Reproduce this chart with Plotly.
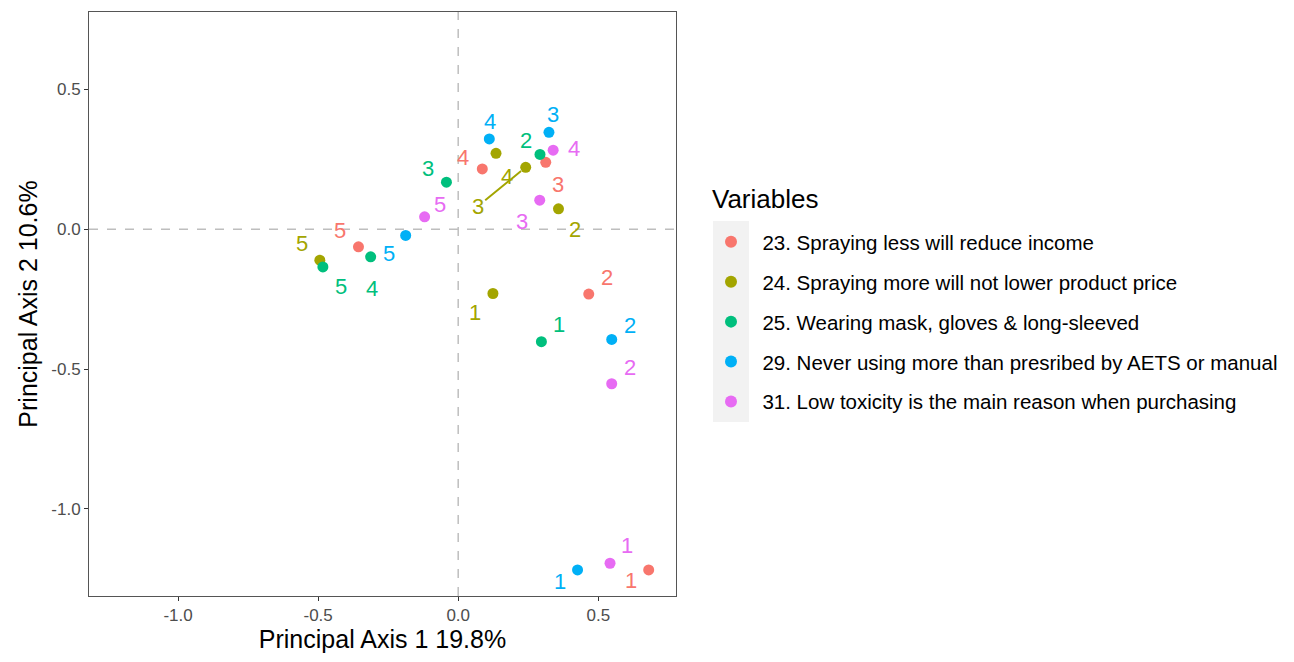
import plotly.graph_objects as go

variables = [
    "23. Spraying less will reduce income",
    "24. Spraying more will not lower product price",
    "25. Wearing mask, gloves & long-sleeved",
    "29. Never using more than presribed by AETS or manual",
    "31. Low toxicity is the main reason when purchasing",
]
colors = ["#F8766D", "#A3A500", "#00BF7D", "#00B0F6", "#E76BF3"]
levels = ["1", "2", "3", "4", "5"]

axis1 = [
    [0.680, 0.466, 0.3125, 0.086, -0.356],
    [0.124, 0.358, 0.241, 0.135, -0.494],
    [0.297, 0.292, -0.042, -0.3125, -0.483],
    [0.426, 0.548, 0.324, 0.111, -0.1875],
    [0.542, 0.548, 0.291, 0.339, -0.120],
]
axis2 = [
    [-1.218, -0.232, 0.239, 0.215, -0.063],
    [-0.230, 0.0726, 0.221, 0.271, -0.111],
    [-0.402, 0.267, 0.168, -0.099, -0.135],
    [-1.218, -0.394, 0.346, 0.3225, -0.0226],
    [-1.194, -0.5525, 0.1036, 0.282, 0.044],
]

# label offsets in pixels (repelled text positions)
label_dx = [
    [-18, 18, 12, -19, -18],
    [-18, 17, -48, 11, -18],
    [18, -14, -18, 1, 18],
    [-18, 18, 4, 1, -17],
    [17, 18, -18, 21, 15],
]
label_dy = [
    [11, -17, 22, -11, -16],
    [19, 21, 39, 23, -17],
    [-17, -14, -14, 32, 20],
    [12, -14, -18, -17, 18],
    [-18, -16, 21, -2, -12],
]

FONT = "Liberation Sans, Arial, sans-serif"

# plot-area geometry (window pixels), page body has an 8px offset
PL, PR, PT, PB = 88, 675, 11, 595
OFF = 7
W, H = 1294, 662

def px_x(p):
    return (p - PL) / (PR - PL)

def px_y(p):
    return (PB - p) / (PB - PT)

fig = go.Figure()

for i, name in enumerate(variables):
    fig.add_trace(go.Scatter(
        x=axis1[i], y=axis2[i], mode="markers", name="\u00a0\u00a0" + name,
        legendgroup=name,
        marker=dict(color=colors[i], size=11),
        hoverinfo="skip",
    ))

annotations = []
for i in range(len(variables)):
    for j, lv in enumerate(levels):
        dx, dy = label_dx[i][j], label_dy[i][j]
        long = (dx * dx + dy * dy) > 40 * 40
        annotations.append(dict(
            x=axis1[i][j], y=axis2[i][j], xref="x", yref="y",
            text=lv, showarrow=True,
            ax=dx, ay=dy,
            arrowwidth=2 if long else 0.1,
            arrowcolor=colors[i] if long else "rgba(0,0,0,0)",
            arrowhead=0, standoff=6 if long else 0,
            font=dict(size=22, color=colors[i], family=FONT),
        ))

annotations.append(dict(
    xref="paper", yref="paper", x=px_x(709), y=px_y(198),
    xanchor="left", yanchor="middle", showarrow=False,
    text="Variables", font=dict(size=26, color="black", family=FONT),
))

shapes = [
    dict(type="line", xref="x", yref="paper", x0=0, x1=0, y0=0, y1=1,
         line=dict(color="#BEBEBE", width=1.5, dash="dash"), layer="below"),
    dict(type="line", xref="paper", yref="y", x0=0, x1=1, y0=0, y1=0,
         line=dict(color="#BEBEBE", width=1.5, dash="dash"), layer="below"),
    # legend key background
    dict(type="rect", xref="paper", yref="paper",
         x0=px_x(712), x1=px_x(748), y0=px_y(421), y1=px_y(220),
         fillcolor="#F2F2F2", line=dict(width=0), layer="below"),
]

axis_common = dict(
    showgrid=False, zeroline=False,
    showline=True, mirror=True, linecolor="#555555", linewidth=1,
    ticks="outside", ticklen=4, tickcolor="#333333", tickwidth=1,
    tickfont=dict(size=17, color="#4D4D4D", family=FONT),
)

fig.update_layout(
    width=W, height=H,
    margin=dict(l=PL - OFF, r=W - PR + OFF, t=PT - OFF, b=H - PB + OFF),
    paper_bgcolor="white", plot_bgcolor="white",
    font=dict(family=FONT),
    xaxis=dict(range=[-1.318, 0.7775], tickvals=[-1.0, -0.5, 0.0, 0.5],
               ticktext=["-1.0", "-0.5", "0.0", "0.5"],
               title=dict(text="Principal Axis 1 19.8%", font=dict(size=25, color="black"), standoff=6),
               **axis_common),
    yaxis=dict(range=[-1.311, 0.776], tickvals=[-1.0, -0.5, 0.0, 0.5],
               ticktext=["-1.0", "-0.5", "0.0", "0.5"],
               title=dict(text="Principal Axis 2 10.6%", font=dict(size=25, color="black"), standoff=6),
               **axis_common),
    legend=dict(
        x=px_x(710), xanchor="left",
        y=px_y(221), yanchor="top",
        bgcolor="rgba(0,0,0,0)",
        font=dict(size=20.5, color="black", family=FONT),
        tracegroupgap=10.25,
        itemsizing="constant",
    ),
    annotations=annotations,
    shapes=shapes,
    showlegend=True,
)

fig.write_html("out.html")
